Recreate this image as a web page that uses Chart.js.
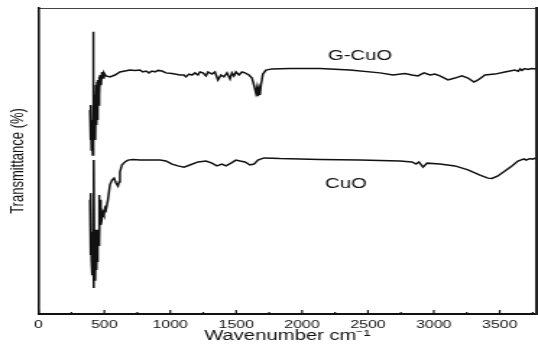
<!DOCTYPE html>
<html>
<head>
<meta charset="utf-8">
<script src="https://cdn.jsdelivr.net/npm/chart.js@4.4.1/dist/chart.umd.min.js"></script>
<style>
  body { margin: 0; background: #fff; }
</style>
</head>
<body>
<!-- the original figure is stretched sideways, so the canvas is drawn narrow and widened by css -->
<canvas id="chart" width="372" height="345" style="width:538px;height:345px"></canvas>
<script>
'use strict';

// wavenumber (cm-1) and transmittance (arbitrary %)
let gcuoWn = [391, 394, 398, 402, 406, 411, 413, 416, 421, 425, 429, 432, 436, 440, 444, 448, 451, 455, 459, 463, 467, 474, 482, 489, 497, 512, 542, 580, 618, 656, 694, 732, 770, 793, 816, 838, 861, 884, 907, 937, 967, 1013, 1074, 1104, 1119, 1142, 1165, 1187, 1210, 1225, 1248, 1271, 1286, 1316, 1339, 1362, 1385, 1407, 1430, 1453, 1468, 1483, 1498, 1521, 1544, 1567, 1597, 1620, 1635, 1650, 1658, 1665, 1673, 1680, 1688, 1703, 1726, 1771, 1908, 2136, 2363, 2591, 2690, 2781, 2834, 2879, 2925, 2971, 3008, 3046, 3107, 3160, 3213, 3259, 3304, 3335, 3388, 3463, 3539, 3615, 3640, 3655, 3668, 3690, 3714, 3740, 3775];
let gcuoT = [66.7, 56.9, 68.3, 53.6, 63.4, 52.0, 92.2, 56.9, 73.2, 60.1, 71.6, 56.9, 74.8, 61.8, 75.8, 63.4, 76.5, 68.3, 77.5, 71.6, 78.1, 74.8, 79.1, 77.1, 78.8, 77.8, 77.5, 78.1, 79.1, 79.4, 79.7, 79.6, 79.7, 79.1, 79.4, 78.8, 79.4, 79.1, 79.6, 79.4, 78.8, 78.6, 78.1, 78.1, 77.5, 78.4, 78.1, 78.8, 78.1, 79.1, 78.8, 77.8, 79.1, 78.4, 79.1, 76.5, 78.1, 77.5, 78.8, 76.8, 78.8, 77.8, 79.1, 78.1, 79.1, 78.8, 78.1, 77.1, 74.8, 72.2, 73.9, 71.2, 73.5, 71.6, 74.8, 78.4, 79.7, 80.1, 80.2, 80.2, 79.7, 78.8, 78.1, 78.6, 78.1, 77.8, 78.8, 78.1, 78.4, 77.8, 76.5, 77.1, 77.8, 77.1, 75.8, 76.5, 78.1, 78.4, 79.1, 79.7, 79.3, 80.1, 79.6, 80.2, 79.9, 80.2, 80.1];

let cuoWn = [391, 394, 398, 402, 406, 409, 413, 417, 421, 425, 429, 432, 436, 440, 444, 448, 451, 455, 459, 463, 467, 471, 474, 482, 489, 497, 505, 512, 527, 542, 558, 573, 588, 603, 611, 618, 633, 656, 679, 717, 770, 846, 922, 967, 1013, 1058, 1104, 1149, 1210, 1271, 1316, 1354, 1392, 1422, 1461, 1498, 1529, 1567, 1605, 1635, 1665, 1711, 1832, 2136, 2439, 2743, 2834, 2865, 2887, 2918, 2948, 3046, 3160, 3259, 3350, 3410, 3441, 3486, 3539, 3592, 3638, 3684, 3700, 3729, 3750, 3775];
let cuoT = [37.3, 19.3, 39.5, 17.6, 25.8, 12.7, 26.8, 8.5, 50.3, 11.1, 24.2, 11.8, 27.5, 14.4, 25.8, 17.0, 27.5, 22.5, 38.9, 24.2, 37.3, 29.1, 34.0, 31.4, 33.3, 32.4, 34.6, 34.0, 37.3, 42.2, 43.8, 44.4, 42.8, 41.8, 43.1, 46.4, 48.7, 49.7, 50.3, 50.5, 50.3, 50.3, 50.3, 50.0, 49.0, 48.4, 48.0, 48.7, 49.7, 50.0, 49.3, 48.4, 49.0, 48.4, 49.3, 50.3, 50.0, 49.7, 48.7, 49.0, 50.3, 51.0, 50.8, 50.5, 50.3, 50.0, 49.7, 49.0, 49.7, 48.0, 49.3, 49.0, 48.4, 47.1, 45.4, 44.4, 44.3, 45.1, 46.7, 48.4, 50.0, 50.7, 50.3, 50.8, 50.6, 51.0];

let xTicks = [0, 500, 1000, 1500, 2000, 2500, 3000, 3500];
let seriesNames = ['G-CuO', 'CuO'];
let labelSpots = [[2440, 83.0], [2333, 41.2]];

let xMax = 3775;

function pairs(wn, t) {
    return wn.map((w, i) => ({ x: w, y: t[i] }));
}

// inward ticks on the bottom axis and the two curve names
let extras = {
    id: 'extras',
    afterDraw(chart) {
        let ctx = chart.ctx;
        let xs = chart.scales.x;
        let ys = chart.scales.y;
        let bottom = chart.chartArea.bottom;
        ctx.save();
        ctx.strokeStyle = '#111';
        ctx.lineWidth = 1.2;
        for (let v = 0; v <= xMax; v += 250) {
            let px = xs.getPixelForValue(v);
            let len = xTicks.includes(v) ? 4 : 2;
            ctx.beginPath();
            ctx.moveTo(px, bottom);
            ctx.lineTo(px, bottom - len);
            ctx.stroke();
        }
        ctx.fillStyle = '#111';
        ctx.font = '14px "Liberation Sans", Arial, sans-serif';
        ctx.textAlign = 'center';
        ctx.textBaseline = 'alphabetic';
        for (let i = 0; i < seriesNames.length; i++) {
            ctx.fillText(seriesNames[i], xs.getPixelForValue(labelSpots[i][0]), ys.getPixelForValue(labelSpots[i][1]));
        }
        ctx.restore();
    }
};

let ctx = document.getElementById('chart').getContext('2d');
let myChart = new Chart(ctx, {
    type: 'scatter',
    data: {
        datasets: [{
            label: seriesNames[0],
            data: pairs(gcuoWn, gcuoT),
            showLine: true,
            borderColor: '#111',
            borderWidth: 1.5,
            pointRadius: 0,
            tension: 0
        }, {
            label: seriesNames[1],
            data: pairs(cuoWn, cuoT),
            showLine: true,
            borderColor: '#111',
            borderWidth: 1.5,
            pointRadius: 0,
            tension: 0
        }]
    },
    options: {
        responsive: false,
        animation: false,
        layout: { padding: 0 },
        plugins: {
            legend: { display: false },
            tooltip: { enabled: false }
        },
        scales: {
            x: {
                type: 'linear',
                position: 'bottom',
                min: 0,
                max: xMax,
                grid: { display: false, drawTicks: false },
                border: { display: true, color: '#111', width: 2 },
                afterBuildTicks: (scale) => { scale.ticks = xTicks.map(v => ({ value: v })); },
                ticks: {
                    includeBounds: false,
                    padding: 4,
                    color: '#111',
                    font: { family: '"Liberation Sans", Arial, sans-serif', size: 11 },
                    maxRotation: 0,
                    callback: (v) => String(v)
                },
                title: {
                    display: true,
                    text: 'Wavenumber cm\u207B\u00B9',
                    color: '#111',
                    font: { family: '"Liberation Sans", Arial, sans-serif', size: 14 },
                    padding: { top: 0, bottom: 0.5 }
                },
                afterFit: (scale) => { scale.height = 31; }
            },
            x2: {
                type: 'linear',
                position: 'top',
                min: 0,
                max: xMax,
                grid: { display: false, drawTicks: false },
                ticks: { display: false },
                border: { display: true, color: '#444', width: 1 },
                afterFit: (scale) => { scale.height = 8; }
            },
            y: {
                type: 'linear',
                position: 'left',
                min: 0,
                max: 100,
                grid: { display: false, drawTicks: false },
                ticks: { display: false },
                border: { display: true, color: '#111', width: 1.6 },
                title: {
                    display: true,
                    text: 'Transmittance (%)',
                    color: '#111',
                    font: { family: '"Liberation Sans", Arial, sans-serif', size: 13 },
                    padding: { top: 4.5, bottom: 0 }
                },
                afterFit: (scale) => { scale.width = 26.6; }
            },
            y2: {
                type: 'linear',
                position: 'right',
                min: 0,
                max: 100,
                grid: { display: false, drawTicks: false },
                ticks: { display: false },
                border: { display: true, color: '#222', width: 2.2 },
                afterFit: (scale) => { scale.width = 1.4; }
            }
        }
    },
    plugins: [extras]
});
</script>
</body>
</html>
